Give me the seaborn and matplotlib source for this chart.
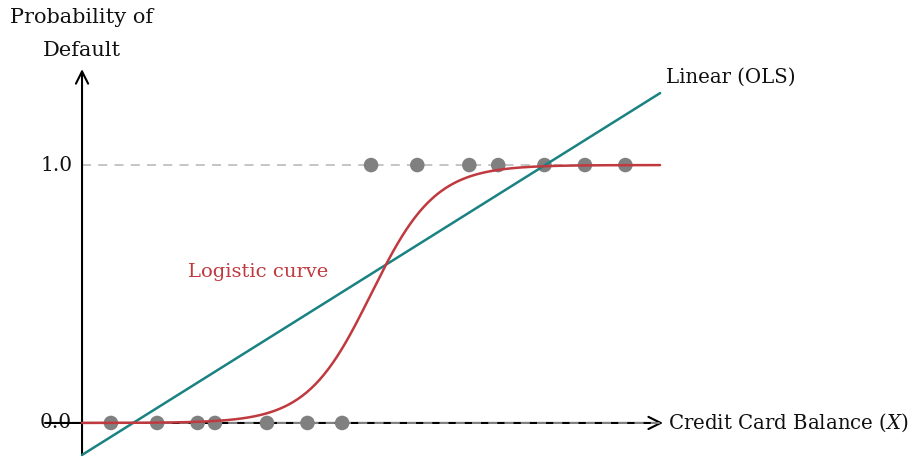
import numpy as np
import pandas as pd
import matplotlib
matplotlib.use("Agg")
import matplotlib.pyplot as plt
import seaborn as sns

# Observations (credit card balance, default 0/1)
x_no_default = [0.5, 1.3, 2.0, 2.3, 3.2, 3.9, 4.5]
x_default = [5.0, 5.8, 6.7, 7.2, 8.0, 8.7, 9.4]

# Fitted models
logit_mid = 5.0
logit_k = 1.8
ols_intercept = -0.124
ols_slope = 0.1403

x_max = 10.0
y_ticks = [0.0, 1.0]
y_tick_labels = ["0.0", "1.0"]

sns.set_theme(style="white")
plt.rcParams['font.family'] = ['DejaVu Serif']
plt.rcParams['mathtext.fontset'] = 'dejavuserif'
plt.rcParams['text.color'] = '#111111'

fig = plt.figure(figsize=(9.15, 4.57), dpi=100)
ax = fig.add_axes([0, 0, 1, 1])
ax.set_xlim(-1.419, 14.41)
ax.set_ylim(-0.132, 1.640)
ax.axis("off")

red = "#c0393f"
teal = "#1a8282"
gray = "#808080"

# reference dashed lines
ax.plot([0, x_max], [1, 1], ls=(0, (5, 4)), color="#c0c0c0", lw=1.3, zorder=1)

# axes arrows
ax.annotate("", xy=(10.05, 0), xytext=(-0.64, 0),
            arrowprops=dict(arrowstyle="->", color="black", lw=1.5,
                            mutation_scale=22, shrinkA=0, shrinkB=0), zorder=2)
ax.annotate("", xy=(0, 1.372), xytext=(0, -0.124),
            arrowprops=dict(arrowstyle="->", color="black", lw=1.5,
                            mutation_scale=22, shrinkA=0, shrinkB=0), zorder=2)
ax.plot([0, x_max], [0, 0], ls=(0, (5, 4)), color="#909090", lw=1.3, zorder=2)

pts = pd.DataFrame({
    "x": x_no_default + x_default,
    "y": [0] * len(x_no_default) + [1] * len(x_default),
})
sns.scatterplot(data=pts, x="x", y="y", ax=ax, color=gray, s=110,
                edgecolor="none", zorder=3, legend=False)

xs = np.linspace(0, x_max, 400)
curves = pd.DataFrame({
    "x": xs,
    "logistic": 1 / (1 + np.exp(-logit_k * (xs - logit_mid))),
    "ols": ols_intercept + ols_slope * xs,
})
sns.lineplot(data=curves, x="x", y="ols", ax=ax, color=teal, lw=1.8, zorder=4)
sns.lineplot(data=curves, x="x", y="logistic", ax=ax, color=red, lw=1.8, zorder=5)

fs = 14.5
for yt, lab in zip(y_ticks, y_tick_labels):
    ax.text(-0.17, yt, lab, ha="right", va="center", fontsize=fs, zorder=1)

ax.text(0, 1.574, "Probability of", ha="center", va="center", fontsize=15)
ax.text(0, 1.445, "Default", ha="center", va="center", fontsize=15)
ax.text(10.14, 0, "Credit Card Balance ($X$)", ha="left", va="center", fontsize=14.2)
ax.text(10.1, 1.34, "Linear (OLS)", ha="left", va="center", fontsize=14.2)
ax.text(1.83, 0.585, "Logistic curve", ha="left", va="center", fontsize=14, color=red)

ax.set_xlabel("")
ax.set_ylabel("")
fig.savefig("out.png", dpi=100)
